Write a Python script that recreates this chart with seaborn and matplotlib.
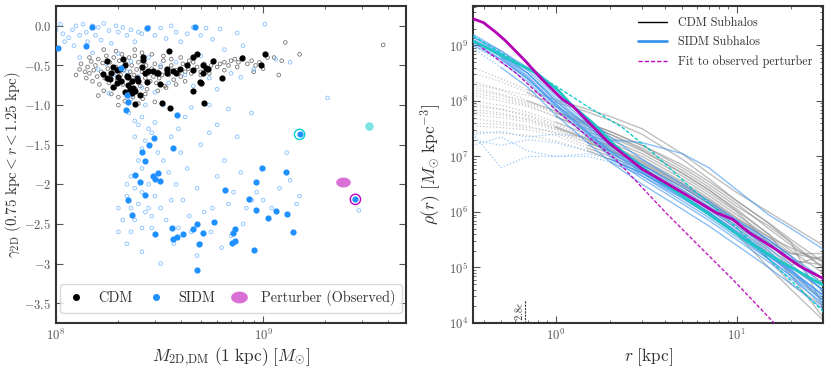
import numpy as np
import pandas as pd
import matplotlib
matplotlib.use('Agg')
import matplotlib.pyplot as plt
import seaborn as sns
from matplotlib.path import Path
from matplotlib.lines import Line2D
import matplotlib.ticker as mticker

sns.set_theme(style='ticks')
plt.rcParams['font.family'] = ['cmr10', 'DejaVu Serif']
plt.rcParams['mathtext.fontset'] = 'cm'
plt.rcParams['axes.unicode_minus'] = False
plt.rcParams['axes.formatter.use_mathtext'] = True

# ---------------- LEFT PANEL DATA (mass in 1e8 Msun, gamma) ----------------
cdm_small_mass = [
    1.25, 1.3, 1.32, 1.38, 1.4, 1.42, 1.45, 1.48, 1.5, 1.52,
    1.55, 1.58, 1.6, 1.62, 1.65, 1.68, 1.7, 1.72, 1.75, 1.78,
    1.8, 1.82, 1.85, 1.88, 1.9, 1.92, 1.95, 1.98, 2.0, 2.02,
    2.05, 2.08, 2.1, 2.12, 2.15, 2.18, 2.2, 2.22, 2.25, 2.28,
    2.3, 2.32, 2.35, 2.38, 2.4, 2.42, 2.45, 2.48, 2.5, 2.55,
    2.6, 2.62, 2.65, 2.7, 2.72, 2.75, 2.8, 2.85, 2.9, 2.95,
    3.0, 3.05, 3.1, 3.15, 3.2, 3.25, 3.3, 3.35, 3.4, 3.5,
    3.6, 3.7, 3.8, 3.9, 4.0, 4.1, 4.2, 4.35, 4.5, 4.6,
    4.8, 5.0, 5.2, 5.4, 5.6, 5.8, 6.0, 6.2, 6.5, 6.8,
    7.0, 7.3, 7.6, 8.0, 8.4, 8.8, 9.2, 9.6, 10.0, 10.5,
    11.3, 11.9, 12.3, 12.8, 15.0, 38.0, 1.45, 1.7, 1.95, 2.4,
    2.6, 2.9, 3.3, 3.6, 4.0, 4.4, 1.6, 2.0, 2.5, 3.0,
    2.7, 3.1, 3.4, 3.8, 4.2, 5.0, 5.5, 6.5, 7.5, 9.0]
cdm_small_gamma = [
    -0.62, -0.55, -0.48, -0.58, -0.66, -0.52, -0.60, -0.45, -0.70, -0.56,
    -0.50, -0.64, -0.42, -0.74, -0.58, -0.47, -0.82, -0.66, -0.38, -0.54,
    -0.72, -0.46, -0.86, -0.60, -0.40, -0.78, -0.52, -0.68, -0.90, -0.44,
    -0.62, -0.36, -0.74, -0.56, -0.95, -0.48, -0.66, -0.84, -0.40, -0.58,
    -0.72, -0.50, -0.90, -0.62, -0.38, -0.80, -0.55, -0.68, -0.46, -0.76,
    -0.58, -0.92, -0.44, -0.66, -0.50, -0.80, -0.60, -0.70, -0.54, -0.64,
    -0.48, -0.72, -0.58, -0.66, -0.52, -0.62, -0.44, -0.76, -0.56, -0.62,
    -0.50, -0.68, -0.56, -0.60, -0.64, -0.48, -0.58, -0.54, -0.60, -0.46,
    -0.52, -0.58, -0.48, -0.56, -0.50, -0.44, -0.52, -0.48, -0.46, -0.50,
    -0.44, -0.42, -0.46, -0.40, -0.48, -0.44, -0.50, -0.46, -0.54, -0.40,
    -0.40, -0.62, -0.44, -0.21, -0.36, -0.24, -0.40, -0.30, -0.32, -0.30,
    -0.34, -0.36, -0.38, -0.42, -0.40, -0.44, -0.88, -1.00, -0.98, -0.96,
    -0.86, -0.82, -0.78, -0.74, -0.70, -0.62, -0.60, -0.56, -0.52, -0.58]

sidm_small_mass = [
    1.0, 1.05, 1.08, 1.1, 1.15, 1.2, 1.22, 1.25, 1.3, 1.35,
    1.4, 1.42, 1.5, 1.55, 1.6, 1.65, 1.7, 1.8, 1.85, 1.95,
    2.0, 2.1, 2.2, 2.3, 2.4, 2.5, 2.6, 2.8, 3.0, 3.2,
    3.4, 3.6, 3.8, 4.0, 4.3, 4.6, 5.0, 5.3, 5.7, 6.2,
    7.5, 10.2, 8.0, 6.5,
    1.3, 1.5, 1.6, 1.75, 1.9, 2.0, 2.1, 2.2, 2.3, 2.5,
    2.6, 2.8, 3.0, 3.2, 3.5, 3.8, 4.2, 4.6, 5.0, 5.5,
    6.0, 7.0, 7.8, 9.0, 11.5, 13.5, 20.5, 2.3, 2.7, 3.3,
    4.5, 5.5, 6.8, 1.8,
    2.25, 2.4, 2.5, 2.6, 2.8, 3.0, 2.4, 2.6, 2.7, 2.9,
    3.1, 2.5, 2.6, 2.3, 2.2, 2.4, 2.6, 2.8, 3.0, 2.2,
    2.3, 2.5, 2.7, 2.8, 2.9, 3.2, 2.4, 2.6, 2.1, 2.2,
    2.0, 2.3, 2.9, 3.2, 3.4, 3.6, 3.8, 3.5, 3.3, 3.6,
    4.0, 4.3, 4.1, 4.4, 4.8, 5.0, 5.2, 5.5, 5.7, 6.0,
    6.5, 6.8, 7.2, 7.5, 7.8, 8.0, 8.3, 8.8, 9.3, 10.0,
    11.0, 12.0, 13.5, 14.5, 5.0, 5.6, 6.3, 4.8, 3.9, 4.5,
    7.0, 2.6, 3.7, 6.0, 4.2, 3.9, 8.8, 13.0, 29.0, 15.0, 2.0]
sidm_small_gamma = [
    -0.05, 0.02, -0.10, -0.20, -0.15, -0.05, -0.25, 0.00, -0.12, 0.02,
    -0.08, -0.20, 0.00, -0.12, -0.02, -0.18, 0.03, -0.06, -0.22, 0.00,
    -0.08, -0.02, -0.12, -0.05, -0.20, -0.08, -0.10, -0.02, -0.12, -0.03,
    -0.16, 0.00, -0.08, -0.20, -0.10, -0.02, -0.12, -0.03, -0.17, -0.04,
    -0.09, 0.02, -0.25, -0.30,
    -0.40, -0.34, -0.55, -0.48, -0.62, -0.35, -0.70, -0.58, -0.45, -0.64,
    -0.78, -0.40, -0.84, -0.50, -0.72, -0.46, -0.62, -0.76, -0.38, -0.66,
    -0.80, -0.60, -0.65, -0.55, -0.42, -0.46, -0.91, -0.92, -1.00, -1.00,
    -1.03, -1.00, -1.05, -0.85,
    -1.10, -1.20, -1.25, -1.15, -1.30, -1.22, -1.40, -1.55, -1.45, -1.35,
    -1.60, -1.70, -1.80, -1.90, -2.00, -2.05, -2.10, -2.00, -2.15, -2.15,
    -2.30, -2.25, -2.35, -2.30, -2.40, -2.30, -2.45, -2.55, -2.45, -2.75,
    -2.60, -2.60, -2.55, -3.00, -2.45, -2.20, -2.00, -1.85, -1.70, -1.40,
    -1.60, -1.80, -2.20, -2.40, -2.05, -1.50, -2.35, -1.35, -2.30, -1.90,
    -1.70, -2.25, -2.10, -1.40, -1.85, -2.50, -2.30, -2.20, -2.10, -2.20,
    -2.30, -2.05, -1.95, -2.25, -2.75, -2.60, -2.80, -2.90, -2.55, -2.60,
    -2.65, -2.85, -2.75, -1.25, -1.15, -1.30, -1.10, -1.60, -2.33, -2.15, -2.30]

cdm_big_mass = [1.76, 1.84, 1.69, 1.96, 1.82, 1.89, 2.04, 2.11, 2.15, 2.19,
                2.23, 2.28, 2.32, 2.07, 2.15, 1.96, 1.76, 1.89, 2.0, 2.23,
                2.32, 2.36, 2.40, 2.45, 2.5, 2.55, 2.4, 2.6, 2.64, 2.64,
                2.69, 2.74, 2.79, 2.95, 3.06, 3.12, 3.18, 3.25, 3.42, 3.5,
                3.55, 3.69, 3.42, 3.8, 3.97, 4.28, 4.6, 4.6, 4.6, 4.8,
                4.96, 5.1, 5.1, 5.2, 5.3, 5.4, 5.0, 5.75, 6.3, 7.9,
                9.8, 10.2]
cdm_big_gamma = [-0.45, -0.60, -0.61, -0.56, -0.67, -0.77, -0.55, -0.42, -0.49, -0.63,
                 -0.75, -0.80, -0.69, -0.70, -0.83, -0.72, -0.66, -0.52, -0.64, -0.64,
                 -0.85, -0.79, -0.82, -0.66, -0.70, -0.87, -0.99, -0.52, -0.39, -0.43,
                 -0.60, -0.71, -0.57, -0.57, -0.59, -0.59, -0.74, -0.97, -0.60, -0.32,
                 -1.04, -0.57, -0.54, -0.59, -0.54, -0.50, -0.39, -0.56, -0.82, -0.35,
                 -0.71, -0.50, -0.59, -0.97, -0.53, -0.54, -0.72, -0.45, -0.66, -0.41,
                 -0.49, -0.36]

sidm_big_mass = [1.02, 1.40, 1.50, 2.74, 4.69, 2.19, 2.23, 2.18, 3.83, 2.97,
                 2.81, 3.69, 2.61, 2.70, 3.12, 2.40, 2.94, 3.00, 3.18, 2.53,
                 6.57, 2.70, 2.23, 8.58, 9.2, 9.9, 12.9, 9.2, 10.6, 11.5,
                 13.1, 13.9, 2.32, 2.99, 3.62, 3.69, 3.85, 4.12, 4.61, 4.77,
                 5.10, 4.92, 5.78, 7.19, 7.33, 7.1, 7.35, 9.05, 4.80, 15.0,
                 27.9, 2.07]
sidm_big_gamma = [-0.28, -0.26, -0.01, -0.03, -0.01, -0.87, -0.96, -1.06, -1.12, -1.42,
                  -1.50, -1.54, -1.59, -1.71, -1.86, -1.88, -1.90, -1.93, -1.96, -1.97,
                  -2.07, -2.13, -2.20, -2.19, -1.97, -1.79, -1.84, -2.33, -2.43, -2.34,
                  -2.38, -2.60, -2.39, -2.63, -2.55, -2.69, -2.66, -2.63, -2.56, -2.50,
                  -2.61, -2.75, -2.47, -2.62, -2.57, -2.74, -2.71, -2.83, -3.08, -1.37,
                  -2.19, -0.53]

ring_cyan = (15.0, -1.37)
ring_magenta = (27.9, -2.19)
cyan_point = (32.3, -1.26)
perturber_obs = (24.4, -1.97)

# ---------------- RIGHT PANEL DATA (log10 rho) ----------------
r_grid = [0.35, 0.5, 0.7, 1.0, 1.5, 2.0, 3.0, 5.0, 7.0, 10.0, 15.0, 20.0, 30.0]

cdm_logrho = [
    [8.60, 8.40, 8.20, 8.02, 7.85, 7.72, 7.50, 7.05, 6.70, 6.35, 6.00, 5.75, 5.40],
    [8.30, 8.20, 8.10, 7.98, 7.80, 7.65, 7.40, 6.95, 6.60, 6.20, 5.80, 5.50, 5.10],
    [8.10, 8.00, 7.90, 7.72, 7.50, 7.35, 7.10, 6.70, 6.40, 6.05, 5.60, 5.30, 4.90],
    [8.20, 8.10, 7.95, 7.78, 7.55, 7.40, 7.15, 6.75, 6.45, 6.10, 5.75, 5.45, 5.00],
    [7.90, 7.85, 7.75, 7.58, 7.35, 7.20, 6.95, 6.55, 6.25, 5.90, 5.50, 5.20, 4.70],
    [8.00, 7.92, 7.80, 7.62, 7.40, 7.25, 7.00, 6.60, 6.30, 5.95, 5.55, 5.25, 5.15],
    [7.75, 7.70, 7.62, 7.48, 7.25, 7.10, 6.85, 6.45, 6.15, 5.80, 5.35, 5.00, 4.60],
    [7.68, 7.62, 7.55, 7.42, 7.20, 7.05, 6.80, 6.40, 6.10, 5.75, 5.25, 4.90, 4.40],
    [8.15, 8.05, 7.92, 7.72, 7.45, 7.30, 7.05, 6.65, 6.35, 6.00, 5.45, 5.05, 5.20],
    [7.55, 7.52, 7.48, 7.38, 7.15, 7.00, 6.75, 6.35, 6.05, 5.70, 5.15, 4.70, 4.30],
    [8.50, 8.35, 8.15, 7.90, 7.60, 7.45, 7.20, 6.80, 6.50, 6.15, 5.70, 5.40, 5.00],
    [7.45, 7.42, 7.38, 7.28, 7.10, 6.95, 6.70, 6.30, 6.00, 5.60, 5.00, 4.60, 4.05],
    [7.85, 7.78, 7.68, 7.52, 7.30, 7.15, 6.90, 6.50, 6.20, 5.85, 5.45, 5.25, 5.25],
    [8.35, 8.20, 8.00, 7.82, 7.60, 7.45, 7.20, 6.85, 6.55, 6.20, 5.80, 5.45, 4.30],
    [7.60, 7.58, 7.52, 7.44, 7.25, 7.10, 6.85, 6.45, 6.15, 5.80, 5.30, 4.85, 4.10],
    [7.95, 7.85, 7.72, 7.54, 7.32, 7.18, 6.92, 6.52, 6.22, 5.88, 5.55, 5.35, 5.10],
    [8.25, 8.12, 7.98, 7.80, 7.58, 7.40, 7.12, 6.70, 6.40, 6.02, 5.60, 5.10, 4.80],
    [7.80, 7.75, 7.66, 7.50, 7.28, 7.12, 6.88, 6.48, 6.18, 5.82, 5.40, 5.12, 5.05],
]
cdm_solid_from = [2, 3, 3, 3, 4, 3, 4, 4, 3, 4, 2, 4, 3, 2, 4, 3, 3, 4]

sidm_logrho = [
    [9.15, 8.85, 8.50, 8.05, 7.55, 7.20, 6.80, 6.35, 6.05, 5.75, 5.35, 5.05, 4.60],
    [9.10, 8.80, 8.45, 7.95, 7.45, 7.10, 6.70, 6.25, 5.95, 5.60, 5.20, 4.90, 4.45],
    [9.20, 8.90, 8.55, 8.10, 7.60, 7.25, 6.85, 6.40, 6.10, 5.80, 5.45, 5.15, 4.70],
    [9.00, 8.70, 8.35, 7.85, 7.35, 7.00, 6.60, 6.15, 5.85, 5.50, 5.10, 4.80, 4.35],
    [9.05, 8.75, 8.40, 7.90, 7.40, 7.05, 6.65, 6.20, 5.90, 5.55, 5.15, 4.85, 4.30],
    [9.10, 8.80, 8.50, 8.00, 7.50, 7.15, 6.75, 6.30, 6.00, 5.65, 5.25, 4.95, 4.50],
    [9.15, 8.90, 8.60, 8.15, 7.70, 7.35, 6.95, 6.50, 6.20, 5.85, 5.50, 5.20, 4.80],
    [8.95, 8.60, 8.25, 7.75, 7.25, 6.90, 6.50, 6.05, 5.75, 5.40, 5.00, 4.70, 4.25],
    [9.00, 8.75, 8.40, 7.95, 7.45, 7.10, 6.75, 6.35, 6.05, 5.70, 5.30, 4.95, 4.40],
    [9.10, 8.85, 8.50, 8.00, 7.55, 7.20, 6.85, 6.45, 6.15, 5.85, 5.50, 5.20, 4.55],
    [9.08, 8.78, 8.42, 7.92, 7.42, 7.08, 6.72, 6.28, 5.98, 5.62, 5.22, 4.92, 4.50],
    [7.40, 7.45, 7.35, 7.40, 7.35, 7.30, 7.25, 7.05, 6.80, 6.40, 5.95, 5.70, 5.33],
    [7.30, 7.20, 7.30, 7.25, 7.10, 6.95, 6.70, 6.30, 6.00, 5.60, 5.20, 4.95, 4.50],
    [7.20, 7.35, 7.10, 7.00, 7.00, 6.90, 6.65, 6.25, 5.95, 5.60, 5.15, 4.85, 4.40],
    [7.40, 6.80, 7.00, 7.00, 7.05, 6.95, 6.70, 6.30, 6.00, 5.65, 5.25, 5.00, 4.60],
]
sidm_solid_from = [0, 0, 0, 1, 0, 0, 0, 1, 0, 0, 1, 5, 5, 5, 5]

magenta_r = [0.35, 0.40, 0.47, 0.53, 0.68, 0.84, 1.09, 1.24, 1.59, 1.96, 3.01,
             5.01, 7.66, 9.46, 11.7, 16.4, 22.1, 30.4]
magenta_logrho = [9.48, 9.41, 9.23, 9.08, 8.72, 8.39, 8.03, 7.91, 7.55, 7.25, 6.77,
                  6.35, 5.99, 5.87, 5.63, 5.33, 5.03, 4.79]
cyan_r = [0.35, 0.47, 0.60, 0.78, 1.04, 1.24, 1.59, 2.14, 3.28, 5.01, 7.66, 11.7, 17.9, 30.4]
cyan_logrho = [9.08, 8.87, 8.69, 8.51, 8.18, 7.91, 7.61, 7.19, 6.71, 6.29, 5.87, 5.45, 5.09, 4.67]
cyan_fit_r = [0.35, 1.0, 1.5, 2.34, 3.5, 5.43, 8.0, 11.7, 17.9, 30.4]
cyan_fit_logrho = [9.17, 8.27, 7.90, 7.52, 7.05, 6.47, 6.00, 5.51, 4.91, 4.19]
pert_fit_r = [0.35, 0.60, 1.04, 2.14, 4.05, 6.18, 9.46, 16.1, 20.0]
pert_fit_logrho = [9.08, 8.51, 7.79, 6.95, 5.99, 5.39, 4.79, 4.00, 3.67]

soft_r = 0.68

# ---------------- FIGURE ----------------
fig = plt.figure(figsize=(8.30, 3.69), dpi=100)
axL = fig.add_axes([0.0675, 0.1247, 0.4217, 0.859])
axR = fig.add_axes([0.5700, 0.1247, 0.4217, 0.859])

spine_col = '#333333'
tick_col = '#555555'

# ----- left -----
axL.set_xscale('log')
sns.scatterplot(x=np.array(cdm_small_mass) * 1e8, y=cdm_small_gamma, ax=axL,
                s=7, facecolor='none', edgecolor='#555555', linewidth=0.6, alpha=0.8, zorder=2)
sns.scatterplot(x=np.array(sidm_small_mass) * 1e8, y=sidm_small_gamma, ax=axL,
                s=7, facecolor='none', edgecolor='#79b8ff', linewidth=0.6, alpha=0.9, zorder=2)
sns.scatterplot(x=np.array(cdm_big_mass) * 1e8, y=cdm_big_gamma, ax=axL,
                s=20, color='black', linewidth=0, zorder=3)
sns.scatterplot(x=np.array(sidm_big_mass) * 1e8, y=sidm_big_gamma, ax=axL,
                s=20, color='#1e90ff', linewidth=0, zorder=3)
sns.scatterplot(x=[ring_cyan[0] * 1e8], y=[ring_cyan[1]], ax=axL, s=55,
                facecolor='none', edgecolor='darkturquoise', linewidth=1.0, zorder=4)
sns.scatterplot(x=[ring_magenta[0] * 1e8], y=[ring_magenta[1]], ax=axL, s=55,
                facecolor='none', edgecolor='#c000c0', linewidth=1.0, zorder=4)
sns.scatterplot(x=[cyan_point[0] * 1e8], y=[cyan_point[1]], ax=axL, s=38,
                color='#7fe3df', linewidth=0, zorder=4)
t = np.linspace(0, 2 * np.pi, 60)
ell = Path(np.c_[np.cos(t), 0.68 * np.sin(t)], closed=True)
axL.scatter([perturber_obs[0] * 1e8], [perturber_obs[1]], marker=ell, s=110,
            color='orchid', linewidth=0, zorder=4)

axL.set_xlim(1e8, 4.9e9)
axL.set_ylim(-3.75, 0.25)
ytk = [0, -0.5, -1.0, -1.5, -2, -2.5, -3, -3.5]
ylab = ['$0.0$', '$-0.5$', '$-1.0$', '$-1.5$', '$-2$', '$-2.5$', '$-3$', '$-3.5$']
axL.yaxis.set_major_locator(mticker.FixedLocator(ytk))
axL.yaxis.set_major_formatter(mticker.FixedFormatter(ylab))
axL.set_xlabel(r'$M_{\rm 2D{,}DM}\ (1\ {\rm kpc})\ [M_{\odot}]$', fontsize=12.5,
               color='#333333', labelpad=2)
axL.set_ylabel(r'$\gamma_{\rm 2D}\ (0.75\ {\rm kpc} < r < 1.25\ {\rm kpc})$', fontsize=10.8,
               color='#333333')
axL.yaxis.set_label_coords(-0.095, 0.5)

hL = [Line2D([], [], marker='o', linestyle='', color='black', markersize=4),
      Line2D([], [], marker='o', linestyle='', color='#1e90ff', markersize=4),
      Line2D([], [], marker=ell, linestyle='', color='orchid', markersize=11)]
legL = axL.legend(hL, ['CDM', 'SIDM', 'Perturber (Observed)'], loc='lower center',
                  ncol=3, fontsize=10.3, frameon=True, fancybox=True, edgecolor='#d0d0d0',
                  columnspacing=1.0, handlelength=1.3, handletextpad=0.9, borderpad=0.45,
                  bbox_to_anchor=(0.5, 0.01))
for tx in legL.get_texts():
    tx.set_color('#333333')

# ----- right -----
axR.set_xscale('log')
axR.set_yscale('log')
rg = np.array(r_grid)
for prof, k in zip(cdm_logrho, cdm_solid_from):
    rho = 10 ** np.array(prof)
    sns.lineplot(x=rg[:k + 1], y=rho[:k + 1], ax=axR, color='#b0b0b0', lw=0.9,
                 linestyle=':', alpha=0.7, sort=False, estimator=None, zorder=1)
    sns.lineplot(x=rg[k:], y=rho[k:], ax=axR, color='#8c8c8c', lw=1.0,
                 alpha=0.55, sort=False, estimator=None, zorder=2)
for prof, k in zip(sidm_logrho, sidm_solid_from):
    rho = 10 ** np.array(prof)
    if k > 0:
        sns.lineplot(x=rg[:k + 1], y=rho[:k + 1], ax=axR, color='#7ab8f5', lw=0.9,
                     linestyle=':', alpha=0.8, sort=False, estimator=None, zorder=1)
    sns.lineplot(x=rg[k:], y=rho[k:], ax=axR, color='#3d95ef', lw=1.0,
                 alpha=0.6, sort=False, estimator=None, zorder=3)

sns.lineplot(x=cyan_fit_r, y=10 ** np.array(cyan_fit_logrho), ax=axR, color='#00c8cc',
             lw=0.9, linestyle=(0, (3, 1.5)), sort=False, estimator=None, zorder=4)
sns.lineplot(x=pert_fit_r, y=10 ** np.array(pert_fit_logrho), ax=axR, color='#c000c0',
             lw=0.9, linestyle=(0, (3, 1.5)), sort=False, estimator=None, zorder=4)
sns.lineplot(x=cyan_r, y=10 ** np.array(cyan_logrho), ax=axR, color='#1fc4c4',
             lw=2.0, sort=False, estimator=None, zorder=5)
sns.lineplot(x=magenta_r, y=10 ** np.array(magenta_logrho), ax=axR, color='#b400b4',
             lw=2.0, sort=False, estimator=None, zorder=6)

sns.lineplot(x=[soft_r, soft_r], y=[1e4, 10 ** 4.42], ax=axR, color='#333333',
             lw=0.8, linestyle=(0, (2, 1)), sort=False, estimator=None)
axR.text(soft_r * 0.925, 1.08e4, r'$2.8\epsilon$', rotation=90, fontsize=7.5,
         ha='center', va='bottom', color='#333333')

axR.set_xlim(0.35, 30)
axR.set_ylim(1e4, 10 ** 9.71)
axR.set_xlabel(r'$r\ [{\rm kpc}]$', fontsize=12.5, color='#333333', labelpad=2)
axR.set_ylabel(r'$\rho(r)\ [M_{\odot}\ {\rm kpc}^{-3}]$', fontsize=12.5, color='#333333')
axR.yaxis.set_major_locator(mticker.LogLocator(base=10, numticks=10))
axR.yaxis.set_minor_locator(mticker.LogLocator(base=10, subs=np.arange(2, 10) * 1.0, numticks=20))
axR.yaxis.set_minor_formatter(mticker.NullFormatter())

hR = [Line2D([], [], color='black', lw=1.0),
      Line2D([], [], color='#3d95ef', lw=2.0),
      Line2D([], [], color='#c000c0', lw=1.0, linestyle=(0, (3, 1.5)))]
legR = axR.legend(hR, ['CDM Subhalos', 'SIDM Subhalos', 'Fit to observed perturber'],
                  loc='upper right', frameon=False, fontsize=8.7, handlelength=2.4,
                  labelspacing=0.6, handletextpad=0.9, borderaxespad=0.5)
for tx in legR.get_texts():
    tx.set_color('#333333')

for ax in (axL, axR):
    for sp in ax.spines.values():
        sp.set_color(spine_col)
        sp.set_linewidth(1.5)
    ax.tick_params(which='both', direction='in', top=True, right=True,
                   colors=tick_col, labelsize=9, labelcolor='#555555')
    ax.tick_params(which='major', length=5, width=0.8)
    ax.tick_params(which='minor', length=2.5, width=0.6)

fig.savefig('out.png', dpi=100)
